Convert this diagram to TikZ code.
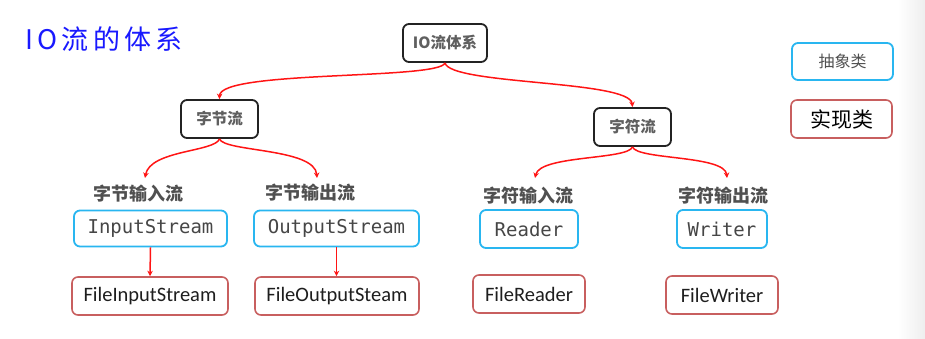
\documentclass[tikz,border=0pt]{standalone}
\usepackage{fontspec}
\setmainfont{Carlito}
\newfontfamily\cjk{Noto Sans CJK SC}
\newfontfamily\mono{DejaVu Sans Mono}
\usetikzlibrary{arrows.meta}
\definecolor{absblue}{RGB}{41,182,240}
\definecolor{implred}{RGB}{200,95,95}
\definecolor{arrred}{RGB}{255,20,20}
\definecolor{txtgray}{RGB}{80,80,80}
\definecolor{catgray}{RGB}{95,95,95}
\definecolor{titleblue}{RGB}{25,25,255}
\definecolor{edgegray}{RGB}{238,238,238}
\begin{document}
\begin{tikzpicture}[x=1pt,y=-1pt,
  catbox/.style={draw={rgb,255:red,35;green,35;blue,35}, line width=1.8pt, rounded corners=6pt, inner sep=0pt,
     minimum height=38pt, font=\cjk\bfseries\fontsize{15.5}{18}\selectfont, text=catgray},
  absbox/.style={draw=absblue, line width=1.8pt, rounded corners=6pt, inner sep=0pt,
     minimum height=36pt, font=\mono\fontsize{19}{22}\selectfont, text={rgb,255:red,70;green,70;blue,70}},
  implbox/.style={draw=implred, line width=1.6pt, rounded corners=6pt, inner sep=0pt,
     minimum height=38pt, font=\fontsize{20.5}{24}\selectfont, text={rgb,255:red,30;green,30;blue,30}},
  grouplabel/.style={inner sep=0pt, font=\cjk\bfseries\fontsize{18}{21}\selectfont, text=txtgray},
  link/.style={draw=arrred, line width=1.5pt, -{Stealth[length=5.5pt,width=5.5pt]}}
]
\useasboundingbox (0,0) rectangle (925,339);
\shade[left color=white, right color=edgegray] (898,0) rectangle (925,339);

\node[anchor=west, inner sep=0pt, text=titleblue, font=\cjk\fontsize{27}{30}\selectfont\addfontfeature{LetterSpace=16}] (title) at (25,39) {IO流的体系};

\node[catbox, minimum width=84pt] (root) at (445,43) {IO流体系};
\node[catbox, minimum width=77pt] (byte) at (219.5,119) {字节流};
\node[catbox, minimum width=77pt] (char) at (632.5,127) {字符流};

\node[absbox, minimum width=101pt, minimum height=37pt, font=\cjk\fontsize{16}{19}\selectfont, text=txtgray] (legabs) at (842.5,61.5) {抽象类};
\node[implbox, minimum width=101pt, font=\cjk\fontsize{21}{24}\selectfont, text=black] (legimpl) at (841.5,119) {实现类};

\node[grouplabel] (lbi) at (138,194) {字节输入流};
\node[grouplabel] (lbo) at (310,193) {字节输出流};
\node[grouplabel] (lci) at (528,196) {字符输入流};
\node[grouplabel] (lco) at (723,196) {字符输出流};

\node[absbox, minimum width=153pt] (is) at (150.5,228.5) {InputStream};
\node[absbox, minimum width=165pt] (os) at (336.5,228.5) {OutputStream};
\node[absbox, minimum width=98pt, minimum height=38pt] (rd) at (529,229) {Reader};
\node[absbox, minimum width=90pt, minimum height=38pt] (wr) at (722,229) {Writer};

\node[implbox, minimum width=156pt] (fis) at (150,296) {FileInputStream};
\node[implbox, minimum width=164pt] (fos) at (337,296) {FileOutputSteam};
\node[implbox, minimum width=112pt] (frd) at (529,294) {FileReader};
\node[implbox, minimum width=112pt] (fwr) at (722,295) {FileWriter};

\coordinate (tbi) at (145,178);
\coordinate (tbo) at (317,178);
\coordinate (tci) at (535,178);
\coordinate (tco) at (727,178);

\draw[link] (root.south) .. controls (440,80) and (220,70) .. (byte.north);
\draw[link] (root.south) .. controls (450,85) and (630,80) .. (char.north);
\draw[link] (byte.south) .. controls (215,152) and (150,150) .. (tbi);
\draw[link] (byte.south) .. controls (224,152) and (315,148) .. (tbo);
\draw[link] (char.south) .. controls (628,160) and (540,155) .. (tci);
\draw[link] (char.south) .. controls (637,160) and (725,155) .. (tco);
\draw[link] (is.south) -- (fis.north);
\draw[link] (os.south) -- (fos.north -| os.south);
\end{tikzpicture}
\end{document}
